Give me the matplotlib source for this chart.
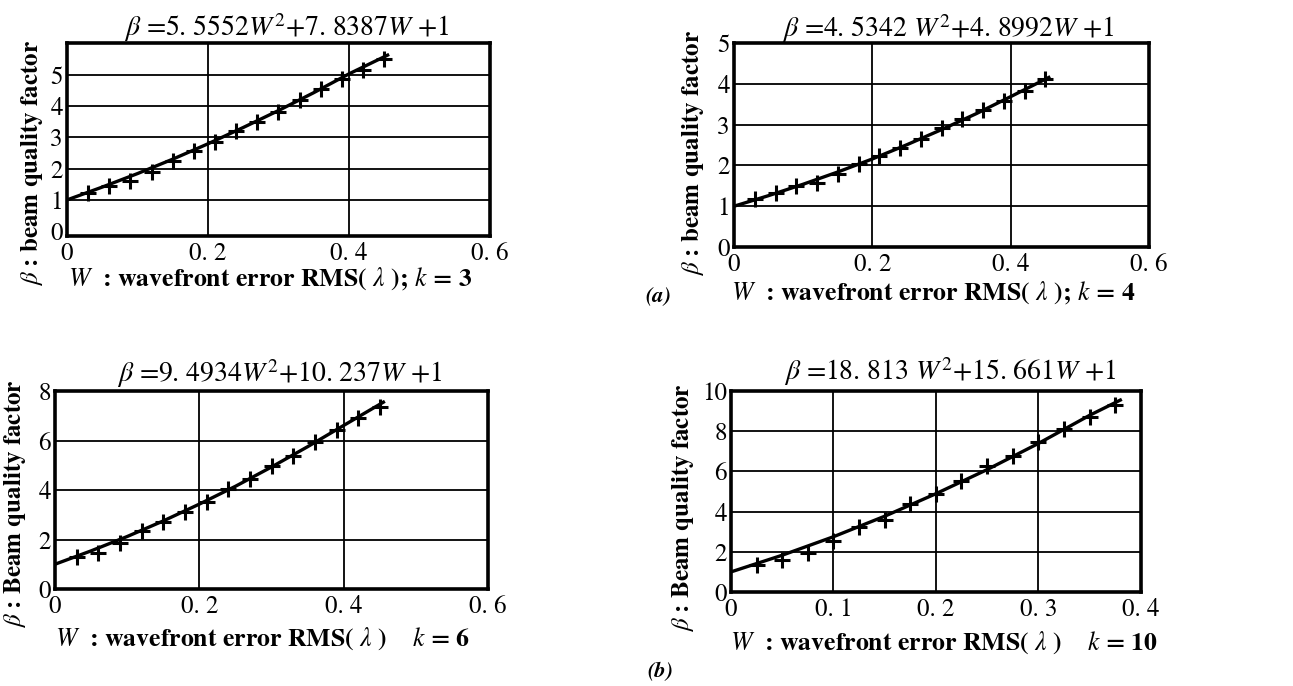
import matplotlib
matplotlib.use("Agg")
import matplotlib.pyplot as plt

plt.rcParams['font.family'] = ['STIXGeneral', 'DejaVu Serif']
plt.rcParams['mathtext.fontset'] = 'stix'

# measured points (W, beta) for each k
w_k3 = [0.03, 0.06, 0.09, 0.12, 0.15, 0.18, 0.21, 0.24, 0.27, 0.30, 0.33, 0.36, 0.39, 0.42, 0.45]
b_k3 = [1.22, 1.45, 1.60, 1.88, 2.25, 2.55, 2.85, 3.20, 3.48, 3.82, 4.18, 4.54, 4.85, 5.15, 5.50]
w_k4 = [0.03, 0.06, 0.09, 0.12, 0.15, 0.18, 0.21, 0.24, 0.27, 0.30, 0.33, 0.36, 0.39, 0.42, 0.45]
b_k4 = [1.18, 1.32, 1.50, 1.58, 1.78, 2.03, 2.23, 2.44, 2.65, 2.92, 3.13, 3.35, 3.57, 3.83, 4.13]
w_k6 = [0.03, 0.06, 0.09, 0.12, 0.15, 0.18, 0.21, 0.24, 0.27, 0.30, 0.33, 0.36, 0.39, 0.42, 0.45]
b_k6 = [1.28, 1.45, 1.85, 2.33, 2.70, 3.12, 3.50, 4.05, 4.46, 4.98, 5.38, 5.92, 6.42, 6.90, 7.35]
w_k10 = [0.025, 0.05, 0.075, 0.10, 0.125, 0.15, 0.175, 0.20, 0.225, 0.25, 0.275, 0.30, 0.325, 0.35, 0.375]
b_k10 = [1.35, 1.60, 1.95, 2.55, 3.25, 3.60, 4.38, 4.90, 5.50, 6.25, 6.75, 7.45, 8.10, 8.70, 9.30]

# fitted curves
fw_k3 = [0, 0.05, 0.10, 0.15, 0.20, 0.25, 0.30, 0.35, 0.40, 0.455]
fb_k3 = [1.0, 1.41, 1.84, 2.30, 2.79, 3.31, 3.85, 4.42, 5.02, 5.62]
fw_k4 = [0, 0.05, 0.10, 0.15, 0.20, 0.25, 0.30, 0.35, 0.40, 0.455]
fb_k4 = [1.0, 1.26, 1.54, 1.84, 2.16, 2.51, 2.88, 3.27, 3.69, 4.16]
fw_k6 = [0, 0.05, 0.10, 0.15, 0.20, 0.25, 0.30, 0.35, 0.40, 0.455]
fb_k6 = [1.0, 1.54, 2.12, 2.75, 3.43, 4.15, 4.93, 5.75, 6.61, 7.55]
fw_k10 = [0, 0.05, 0.10, 0.15, 0.20, 0.25, 0.30, 0.35, 0.38]
fb_k10 = [1.0, 1.83, 2.75, 3.77, 4.89, 6.09, 7.39, 8.79, 9.55]

titles = [r"$\beta$ =5. 5552$W^{2}$+7. 8387$W$ +1",
          r"$\beta$ =4. 5342 $W^{2}$+4. 8992$W$ +1",
          r"$\beta$ =9. 4934$W^{2}$+10. 237$W$ +1",
          r"$\beta$ =18. 813 $W^{2}$+15. 661$W$ +1"]
ylabels = [r"$\beta$ : beam quality factor", r"$\beta$ : beam quality factor",
           r"$\beta$ : Beam quality factor", r"$\beta$ : Beam quality factor"]
xlabels = [r"$W$  : wavefront error RMS( $\lambda$ ); $k$ = 3",
           r"$W$  : wavefront error RMS( $\lambda$ ); $k$ = 4",
           r"$W$  : wavefront error RMS( $\lambda$ )    $k$ = 6",
           r"$W$  : wavefront error RMS( $\lambda$ )    $k$ = 10"]

xt_06 = [0, 0.2, 0.4, 0.6]
xtl_06 = ["0", "0. 2", "0. 4", "0. 6"]
xt_04 = [0, 0.1, 0.2, 0.3, 0.4]
xtl_04 = ["0", "0. 1", "0. 2", "0. 3", "0. 4"]

panels = [
    dict(pos=[0.0518, 0.656, 0.327, 0.281], w=w_k3, b=b_k3, fw=fw_k3, fb=fb_k3,
         xlim=(0, 0.6), ylim=(-0.15, 6.0), xt=xt_06, xtl=xtl_06, yt=[0, 1, 2, 3, 4, 5],
         vg=[0.2, 0.4], hg=[1, 2, 3, 4, 5], ylc=(-0.083, 0.38), xlc=(0.48, -0.22), tpos=(0.52, 1.083)),
    dict(pos=[0.5677, 0.640, 0.321, 0.297], w=w_k4, b=b_k4, fw=fw_k4, fb=fb_k4,
         xlim=(0, 0.6), ylim=(0, 5), xt=xt_06, xtl=xtl_06, yt=[0, 1, 2, 3, 4, 5],
         vg=[0.2, 0.4], hg=[1, 2, 3, 4], ylc=(-0.099, 0.46), xlc=(0.48, -0.225), tpos=(0.515, 1.07)),
    dict(pos=[0.0425, 0.1414, 0.335, 0.2886], w=w_k6, b=b_k6, fw=fw_k6, fb=fb_k6,
         xlim=(0, 0.6), ylim=(0, 8), xt=xt_06, xtl=xtl_06, yt=[0, 2, 4, 6, 8],
         vg=[0.2, 0.4], hg=[2, 4, 6], ylc=(-0.092, 0.43), xlc=(0.48, -0.25), tpos=(0.52, 1.09)),
    dict(pos=[0.5653, 0.137, 0.317, 0.293], w=w_k10, b=b_k10, fw=fw_k10, fb=fb_k10,
         xlim=(0, 0.4), ylim=(0, 10), xt=xt_04, xtl=xtl_04, yt=[0, 2, 4, 6, 8, 10],
         vg=[0.1, 0.2, 0.3], hg=[2, 4, 6, 8], ylc=(-0.117, 0.42), xlc=(0.52, -0.25), tpos=(0.534, 1.095)),
]

fig = plt.figure(figsize=(12.93, 6.86), dpi=100)

for i, p in enumerate(panels):
    ax = fig.add_axes(p['pos'])
    for g in p['vg']:
        ax.axvline(g, color='black', lw=1.3, zorder=1)
    for g in p['hg']:
        ax.axhline(g, color='black', lw=1.3, zorder=1)
    ax.plot(p['fw'], p['fb'], color='black', lw=2.4, zorder=3)
    ax.plot(p['w'], p['b'], linestyle='none', marker='+', ms=11, mew=2.2, color='black', zorder=4)
    ax.set_xlim(p['xlim'])
    ax.set_ylim(p['ylim'])
    ax.set_xticks(p['xt'])
    ax.set_xticklabels(p['xtl'])
    ax.set_yticks(p['yt'])
    ax.tick_params(length=0, labelsize=18, pad=4)
    ax.tick_params(axis='y', pad=3)
    for s in ax.spines.values():
        s.set_linewidth(2.6)
    ax.set_ylabel(ylabels[i], fontsize=18, fontweight='bold', va='center')
    ax.yaxis.set_label_coords(*p['ylc'])
    ax.set_xlabel(xlabels[i], fontsize=18.5, fontweight='bold', va='center')
    ax.xaxis.set_label_coords(*p['xlc'])
    ax.text(p['tpos'][0], p['tpos'][1], titles[i], transform=ax.transAxes,
            ha='center', va='center', fontsize=20)

fig.text(658 / 1293, 1 - 297 / 686, "(a)", ha='center', va='center', fontsize=16,
         style='italic', fontweight='bold')
fig.text(660 / 1293, 1 - 672 / 686, "(b)", ha='center', va='center', fontsize=16,
         style='italic', fontweight='bold')

fig.savefig("out.png", dpi=100)
